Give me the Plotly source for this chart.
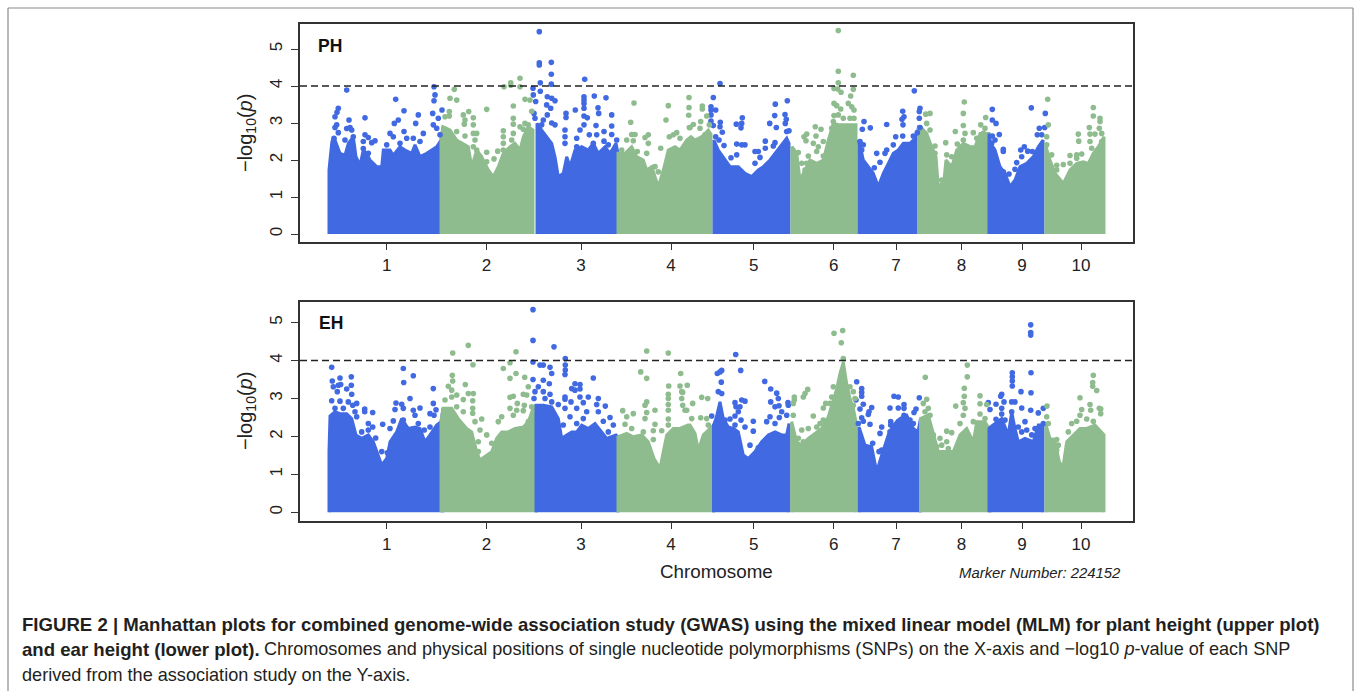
import plotly.graph_objects as go

BLUE = "#4169E1"
GREEN = "#8FBC8F"
chrom_labels = ["1", "2", "3", "4", "5", "6", "7", "8", "9", "10"]
chrom_ticks = [86.7, 186.5, 281, 371, 453.7, 533.7, 596, 661.5, 722, 781]
chrom_edges = [29, 142, 235, 317.5, 412.5, 490.5, 557.5, 619.5, 690, 744.5, 806]

# top of the solid mass of markers, (position, -log10 p)
ph_env = [
 (29,1.73),(30,2.0),(31.7,2.45),(35,2.54),(40,2.18),(45,2.13),(48.3,2.45),(53.3,2.63),(56,2.09),(60,1.86),(63.3,2.27),(66.7,2.18),(70,2.0),(76.7,1.82),(81.7,1.82),(83.3,2.27),(90,2.27),(93.3,2.13),(100,2.36),(105,2.27),(111.7,2.18),(115,2.41),(120,2.09),(126.7,2.18),(131.7,2.27),(136.7,2.36),(141,2.54),
 (143,2.9),(150,2.81),(156.7,2.54),(163.3,2.45),(168.3,2.36),(171.7,1.82),(176.7,2.27),(181.7,2.09),(188.3,1.73),(193.3,1.55),(198.3,1.82),(203.3,2.18),(210,2.36),(215,2.45),(220,2.27),(223.3,2.63),(228.3,2.9),(233,2.81),
 (237,2.99),(241.7,2.81),(246.7,2.63),(251.7,2.45),(255,2.09),(258.3,1.55),(263.3,1.64),(266.7,2.09),(270,1.82),(275,2.27),(281.7,2.36),(288.3,2.27),(293.3,2.45),(298.3,2.18),(305,2.36),(310,2.18),(316,2.45),
 (318,2.18),(325,2.18),(331.7,2.36),(336.7,2.09),(343.3,2.0),(346.7,1.73),(351.7,1.82),(358.3,1.28),(363.3,1.73),(368.3,2.27),(375,2.36),(380,2.27),(386.7,2.54),(391,2.63),(395,2.54),(401.7,2.63),(408.3,2.81),(411,2.7),
 (414,2.54),(418.3,2.27),(423.3,2.09),(430,1.82),(438.3,1.82),(445,1.64),(451.7,1.55),(458.3,1.73),(463.3,1.82),(470,2.0),(475,2.18),(480,2.36),(486.7,2.59),(489,2.45),
 (492,2.36),(496.7,2.18),(500,1.46),(505,1.73),(510,2.0),(516.7,1.91),(523.3,2.0),(528.3,2.54),(533.3,2.99),(540,2.95),(546.7,2.95),(556,2.95),
 (559,2.54),(563.3,2.0),(568.3,1.82),(573.3,1.64),(578.3,1.28),(583.3,1.64),(588.3,1.91),(593.3,2.18),(598.3,2.27),(603.3,2.45),(610,2.45),(616.7,2.63),(618.5,2.9),
 (620.5,2.9),(626.7,2.72),(631.7,2.36),(636,2.09),(638.3,1.28),(643.3,1.28),(646,2.0),(651.7,1.82),(656.7,2.27),(663.3,2.45),(670,2.36),(675,2.36),(680,2.72),(689,2.72),
 (690.5,2.45),(695,2.27),(700,1.82),(705,1.64),(710,1.28),(715,1.46),(720,1.82),(726.7,1.91),(733.3,2.09),(738.3,2.36),(743,2.54),
 (746,2.36),(750,2.0),(755,1.64),(763.3,1.37),(770,1.73),(776.7,1.91),(783.3,1.95),(788.3,1.91),(793.3,2.18),(798.3,2.36),(804,2.63),
]
eh_env = [
 (29,1.6),(30,2.54),(35,2.65),(40,2.6),(46.7,2.6),(51.7,2.47),(56,2.04),(61.7,1.95),(68.3,2.04),(73.3,1.86),(78.3,1.51),(81.7,1.25),(86.7,1.42),(90,1.86),(96.7,2.12),(101.7,2.47),(108.3,2.21),(115,2.25),(120,2.21),(125,1.86),(130,2.04),(136.7,2.3),(141,2.39),
 (143,2.74),(151.7,2.74),(158.3,2.47),(166.7,2.21),(171.7,2.12),(176.7,1.6),(180,1.38),(186.7,1.51),(191.7,1.6),(196.7,1.95),(201.7,2.12),(208.3,2.12),(215,2.21),(223.3,2.25),(228.3,2.39),(233,2.74),
 (236,2.82),(243.3,2.82),(251.7,2.78),(258.3,2.47),(261.7,1.95),(266.7,2.04),(271.7,2.12),(276.7,2.12),(281.7,2.3),(288.3,2.21),(295,2.34),(301.7,2.12),(306.7,1.95),(316,2.04),
 (318,1.99),(326.7,2.08),(333.3,1.99),(341.7,2.04),(348.3,1.86),(354,1.42),(360,1.16),(363.3,1.6),(366.7,2.04),(373.3,2.21),(380,2.21),(388,2.3),(390,2.3),(395,2.08),(398.3,1.64),(403.3,2.04),(410,2.21),
 (413.5,2.3),(416,2.47),(420,2.91),(423.3,2.47),(428.3,2.25),(433.3,2.21),(438.3,2.12),(443.3,1.51),(448.3,1.42),(455,1.6),(461.7,1.86),(468.3,2.04),(475,2.12),(481.7,2.04),(486.7,2.04),(489,2.34),
 (491.7,2.39),(496.7,1.86),(501.7,1.77),(508.3,1.95),(513.3,2.04),(521.7,2.21),(528.3,2.52),(533.3,3),(536.7,3.26),(540,3.66),(543.3,3.96),(546.7,3.39),(550,3),(553.3,2.74),(556,2.39),
 (559,2.25),(561.7,2.04),(565,1.77),(571.7,1.73),(576.7,1.07),(581.7,1.51),(588.3,2.04),(593.3,2.3),(600,2.47),(606.7,2.56),(613.3,2.21),(618,2.12),
 (620.5,2.47),(628.3,2.56),(633.3,2.04),(638.3,1.6),(645,1.6),(653.3,1.6),(660,2.04),(666.7,2.21),(673.3,1.86),(676.7,2.39),(685,2.39),(689,2.21),
 (690.5,2.25),(695,2.34),(701.7,2.47),(708.3,2.04),(711.7,2.65),(715,2.21),(718.3,1.86),(725,1.95),(733.3,1.86),(738.3,2.3),(743,2.3),
 (746,2.3),(750,1.95),(755,1.86),(760,1.25),(763.3,1.25),(766.7,1.86),(773.3,2.04),(780,2.21),(786.7,2.21),(795,2.3),(804,2.04),
]

ph_blue = [
 (46.7,3.89),(38.3,3.4),(37,3.29),(35,3.17),(36.7,2.95),(35,2.88),(49,3.08),(46.7,2.85),(50,2.88),(51.7,2.81),
 (38.3,2.74),(34,2.59),(45,2.54),(53.3,2.63),(33.3,2.5),(65,3.14),(65,2.68),(68.3,2.61),(63.3,2.5),(75,2.52),(71.7,2.47),
 (63.3,2.31),(68.3,2.18),(95.7,3.64),(104,3.33),(98.3,3.08),(94.3,2.99),(118.3,3.22),(115.7,2.99),
 (134,3.98),(135,3.76),(134,3.6),(142,3.35),(132.7,3.26),(138.3,3.13),(133.3,2.95),(136.7,2.86),(140,2.68),
 (90,2.72),(93.3,2.63),(104,2.77),(123.3,2.72),(106.7,2.59),(113.3,2.59),(86.7,2.41),(100,2.45),(120,2.5),
 (239.3,5.47),(239.3,4.63),(239.3,4.57),(251.3,4.64),(251.3,4.32),(251.3,4.05),(240.3,4.09),(233,3.94),(240.3,3.86),(233.3,3.76),
 (247.3,3.71),(235.7,3.58),(246.7,3.49),(251.7,3.67),(255,3.6),(250.7,3.4),(234,3.26),(235,3.13),(247.3,3.22),(243.3,3.08),(251.7,3),(255,2.95),(241.7,2.95),
 (284.7,4.18),(284,3.71),(284,3.62),(284,3.53),(284,3.4),(275.3,3.35),(294.3,3.73),(306,3.68),(298,3.41),(298.7,3.26),(311.7,3.22),(266,3.26),(266,3.15),
 (284,3.19),(287.3,3.14),(284,2.95),(296,2.93),(311.7,2.92),(265,2.81),(280,2.81),(304,2.77),(311.7,2.69),(296.7,2.68),(265,2.63),(276.7,2.59),(289.3,2.68),(304,2.51),(316.7,2.54),(265,2.45),(293.3,2.45),(276.7,2.36),(308.3,2.41),
 (420,4.07),(413.3,3.69),(411,3.44),(411,3.35),(415.7,3.35),(411,3.22),(411,3.05),(420.3,3.02),(413.3,2.93),(420,2.9),(422.3,2.75),(415.7,2.63),(419,2.54),(424,2.39),
 (442.3,3.14),(436.3,2.97),(441.7,2.99),(441,2.87),(475.3,3.51),(487.3,3.6),(474.7,3.2),(485,3.23),(486.3,3.1),(485.3,2.99),(469.7,2.99),(476.3,2.88),(489,2.79),(486.7,2.77),(465.3,2.51),(475,2.47),(465.3,2.32),(473.3,2.38),
 (436.7,2.43),(441.7,2.41),(445,2.41),(436.7,2.14),(431,2.06),(455,2.23),(458.3,2.23),(460,2.07),(455,1.91),
 (614.3,3.87),(620,3.4),(619.3,3.31),(619.3,3.13),(602.7,3.32),(604,3.17),(602,3.1),(603,2.95),(586.7,2.96),(564,3.04),(562.3,2.83),(570.3,2.87),(620,2.88),(617.3,2.74),(613.3,2.65),(602.7,2.65),(595.7,2.63),(593.3,2.41),(586.7,2.27),(576.7,2.18),(585,2.18),(580,1.94),(574.3,1.79),(560,2.5),(563.3,2.41),(561.7,2.27),
 (692.3,3.37),(692.3,3.08),(696,2.99),(731.3,3.41),(745.3,3.26),(744.7,2.88),(739.3,2.86),(737.3,2.68),(741.7,2.68),(699.3,2.69),(692.3,2.65),(695,2.54),(691.7,2.45),(703.3,2.29),(703.3,2.23),(724.3,2.36),(720.7,2.27),(727.7,2.24),(732.3,2.23),(721.7,2.09),(716.7,1.93),(703.3,1.68),(709,1.62),(715,1.75),
]
ph_green = [
 (154.3,3.91),(150,3.67),(156.7,3.62),(149.3,3.31),(145,3.17),(149.3,3.19),(168.7,3.31),(163.3,3.22),(173.3,3.14),(165,3.08),(164.3,2.97),(173.3,2.95),(156.7,2.77),(165,2.65),(173.3,2.72),(176.7,2.72),(175,2.54),(173.3,2.36),(176.7,2.27),
 (186.7,3.37),(186.7,2.21),(197.7,2.24),(194,2.03),(180,2.09),(186.7,1.95),(204,3.98),(210.7,4.09),(210.7,4.02),(220,4.21),(220,3.98),(225,3.64),(230,3.62),(213.3,3.46),(231.7,3.32),(213.3,3.13),(213.3,2.97),(203.3,2.79),(225,2.99),(220,2.9),(203.3,2.63),(213.3,2.72),(203.3,2.45),(203.3,2.27),(211.7,2.54),(223.3,2.83),(228.3,2.95),
 (334,3.54),(330.7,3.02),(331.7,2.69),(335,2.69),(326.7,2.54),(333.3,2.52),(321.7,2.27),(345,2.61),(348.3,2.68),(348.3,2.45),(337.3,2.23),(346.7,2.18),(360.7,2.32),(355,1.82),(358.3,1.68),(368.3,3.47),(366,3.08),(389,3.69),(389,3.42),(388.7,3.21),(389.3,2.88),(369.3,2.63),(373.3,2.68),(376.7,2.74),(380,2.59),
 (402.3,3.46),(402.3,3.38),(393.3,2.96),(390,2.88),(400.7,3.04),(406.7,3.19),(409.3,2.95),(400,2.86),(405,2.68),
 (538.3,5.5),(538.3,4.4),(553.3,4.29),(538.3,4.09),(534,3.93),(537.7,3.92),(553.3,3.91),(541,3.83),(550.7,3.73),(534,3.53),(536.7,3.47),(540.7,3.38),(548.3,3.53),(551.7,3.44),(554,3.35),(534,3.2),(538.3,3.22),(543.3,3.13),(550,3.13),(554,3.13),(533.3,3.04),(531.7,2.86),
 (515.3,2.9),(521,2.83),(506.7,2.7),(504,2.63),(506,2.52),(516,2.65),(513.3,2.45),(523.3,2.5),(518.3,2.36),(498.3,2.2),(508.3,2.11),(516.7,2.23),(523.3,2.11),(501.7,1.91),(506.7,1.91),(505,1.73),(508.3,1.59),(499.3,1.46),
 (630,3.26),(625.7,3.24),(626.7,2.99),(630,2.81),(635,2.38),(635,2.18),(635,1.91),(645.7,2.47),(641.7,1.46),(641.7,1.32),(646.7,2.14),(646.7,1.82),(664.3,3.57),(663.3,3.26),(663.3,2.93),(655.3,2.77),(657.3,2.43),(665,2.72),(673.3,2.74),(685.7,3.15),(680.7,2.95),(685,2.86),(676.7,2.59),(683.3,2.72),(663.3,2.54),(651.7,2.09),
 (747.7,3.64),(748.3,2.95),(746.7,2.63),(746.7,2.41),(751.7,2.14),(756.7,1.86),(763.3,1.88),(756.7,1.73),(770,2.12),(776.7,2.14),(781.7,2.16),(778.3,2.7),(778.7,2.51),(770,1.91),(776.7,2.05),(793.3,3.42),(793.3,3.19),(800,3.13),(800,3.04),(789.3,2.88),(799.3,2.86),(790,2.7),(795,2.7),(801.7,2.72),(790,2.5),(801.7,2.5),(791.7,2.32),
]
eh_blue = [
 (31.7,3.82),(32.3,3.46),(40,3.54),(51.3,3.57),(33.3,3.31),(38.3,3.35),(40.7,3.37),(51.3,3.35),(46.7,3.25),(37.3,3.18),(51.7,3.11),(31.7,2.94),(40,2.93),(48.3,2.91),(56.7,2.87),(52.7,2.82),(35,2.74),(43.3,2.74),(64.7,2.72),(64.7,2.65),(72.7,2.63),(55,2.65),(56.7,2.52),(68.3,2.34),(72.7,2.25),(82.7,2.32),(68.3,2.17),(61.7,2.12),(75.7,1.96),(81.7,1.6),(87.3,1.57),
 (103.3,3.79),(113.3,3.6),(103.7,3.42),(133.3,3.26),(110,3.0),(96,2.88),(101.7,2.85),(133.3,2.87),(120,2.75),(95,2.71),(103.3,2.74),(136,2.7),(113.3,2.69),(115,2.56),(130,2.6),(134,2.56),(93.3,2.41),(118.3,2.34),(103.3,2.43),(130,2.25),(124.3,2.17),(90,2.21),
 (233,5.34),(233,4.53),(233,3.96),(254,4.36),(265.3,4.05),(265.3,3.88),(265.3,3.75),(265,3.63),(240,3.88),(243.3,3.88),(250,3.82),(251.7,3.66),(233,3.5),(243.3,3.48),(249.3,3.39),(293.3,3.54),(275,3.39),(280,3.37),(271.7,3.26),(280,3.25),(275,3.22),(238.3,3.31),(235,3.18),(243.3,3.18),(250,3.11),(234,3),(245,3),(251.7,2.91),(265,3.04),(265,2.98),(280,3.04),(288.3,3.04),(298.3,3),(271,2.91),(283.3,2.89),(258.3,2.84),(296.7,2.84),(305.3,2.8),(265,2.74),(276.7,2.74),(286.7,2.65),(298.3,2.65),(310,2.5),(270,2.52),(283.3,2.47),(303.3,2.4),(263.3,2.3),(276.7,2.34),(313.3,2.3),(308.3,2.12),
 (435.7,4.16),(440.7,3.74),(421.7,3.74),(417.3,3.66),(420,3.7),(421.3,3.43),(464.7,3.45),(470.7,3.25),(476.7,3.14),(418.3,3.18),(421.7,3.13),(478.3,3),(470.7,2.91),(435,2.89),(441.7,2.96),(445,2.93),(475,2.78),(479,2.81),(488,2.89),(488.3,2.82),(436,2.78),(440,2.78),(438.3,2.65),(481.7,2.65),(470,2.52),(479.3,2.5),(486.7,2.56),(435,2.54),(411.7,2.54),(430,2.46),(441,2.43),(453.3,2.4),(466.7,2.39),(425,2.43),(435,2.3),(445,2.25),(453.3,2.14),(475,2.34),(450,1.77),(458.3,1.7),
 (556.7,3.44),(561.7,3.26),(561.7,3.16),(561.7,3.06),(556,2.96),(563.3,2.85),(571.7,2.76),(560,2.72),(569,2.65),(568.3,2.58),(561.7,2.49),(563.3,2.4),(570,2.32),(558.3,2.34),(581.7,2.25),(580,2.08),(572.7,1.82),(581.7,1.64),(579,1.6),(594,3.06),(598.3,3.04),(604,2.84),(619.3,3.02),(590,2.75),(598.3,2.75),(604,2.74),(616,2.72),(614,2.63),(604,2.56),(590.7,2.39),(598.3,2.39),(610,2.43),(590.7,2.3),(613.3,2.34),(590,2.12),
 (730.7,4.94),(730.7,4.74),(730.7,4.67),(731,3.68),(712.3,3.68),(712.3,3.57),(712.3,3.46),(712.3,3.33),(731,3.15),(721,3.18),(701.7,3.11),(700.7,3.06),(688.3,2.89),(696,2.85),(704,2.91),(711.7,2.91),(715,2.91),(690,2.71),(701.7,2.74),(721.7,2.75),(730.7,2.69),(743.3,2.74),(738.3,2.62),(701.7,2.59),(711.7,2.65),(696,2.45),(705,2.43),(725,2.39),(718.3,2.25),(726.7,2.17),(721.7,2.12),(735,2.21),(731.7,2.04),(713.3,2.12),(743.3,2.34),
]
eh_green = [
 (152.7,4.2),(168.3,4.4),(173,3.89),(152.3,3.61),(152.7,3.46),(165.3,3.37),(148.3,3.32),(151.7,3.22),(145,2.96),(151.7,3.04),(156.7,3.09),(168.3,3.13),(173.3,3.13),(163.3,2.97),(172.7,2.94),(156.7,2.78),(163.3,2.65),(172.7,2.74),(172.7,2.61),(181.7,2.46),(175,2.39),(180,2.17),(186.7,2.04),(191.7,1.82),(178.3,1.86),(178.3,1.6),
 (216,4.23),(210,3.94),(203.3,3.79),(216,3.66),(210,3.53),(224.7,3.56),(228.3,3.31),(223.3,3.11),(226.7,3.09),(213.3,3.06),(210,3.03),(217.3,2.87),(224.3,2.82),(231.7,2.78),(210,2.74),(216.7,2.69),(223.3,2.68),(213.3,2.56),(201.7,2.52),(198.3,2.39),(228.3,2.39),
 (346.7,4.25),(368.3,4.2),(340.7,3.7),(346.7,3.53),(380.7,3.66),(368.7,3.33),(380,3.33),(387.3,3.35),(382.7,3.16),(368.3,3.11),(368.3,3),(381.7,3),(368.3,2.84),(346.7,2.91),(345,2.82),(382.7,2.82),(368.3,2.69),(386.7,2.69),(322.7,2.68),(355,2.69),(333.3,2.6),(346.7,2.63),(345,2.47),(326.7,2.52),(368.3,2.46),(355,2.32),(325,2.32),(368.3,2.3),(361.7,2.15),(353.3,2.15),(343.3,2.12),(353.3,1.92),(331.7,2.21),
 (392.7,2.87),(401.7,3.03),(407.7,3),(381.7,3.18),(385,2.69),(391.7,2.47),(400.7,2.49),(406.7,2.47),(408.3,2.3),
 (534,4.72),(542.7,4.79),(541.3,4.47),(543.3,4.05),(494.3,3.04),(494.3,2.96),(507.7,3.24),(505,3.13),(503.3,3.04),(493.3,2.87),(525.7,2.87),(523.3,2.75),(513.3,2.54),(493.3,2.56),(508.3,2.21),(501.7,2.17),(516.7,2.25),(523.3,2.43),(533.3,3.31),(550,3.31),(553.3,3.18),(531.7,3.04),(555,3),(530,2.87),(553.3,2.82),(553.3,2.56),(520,2.34),(498.3,1.95),(516.7,2.04),(503.3,1.86),
 (625.3,3.56),(626.7,2.98),(623.3,2.87),(628.3,2.74),(625,2.65),(630,2.56),(667.3,3.88),(667.3,3.57),(664.3,3.27),(664.3,3.06),(663.3,2.89),(680,3.07),(680,2.86),(686.7,2.84),(655.7,2.8),(665,2.74),(663.3,2.56),(680,2.59),(685,2.47),(660,2.34),(646.7,2.14),(651.7,2.1),(633.3,2.04),(640,1.95),(646.7,1.86),(673.3,2.39),(636.7,1.73),(641.7,1.77),(648.3,1.68),
 (747,2.8),(746.7,2.52),(748.3,2.34),(756.7,1.92),(753.3,1.9),(758.3,1.77),(756.7,1.64),(760,1.25),(793.3,3.61),(792.7,3.42),(792.7,3.32),(796.7,3.21),(780,3.02),(790,2.84),(781.7,2.71),(799.3,2.74),(800.7,2.72),(800.7,2.6),(790.7,2.69),(780,2.56),(786.7,2.46),(776.7,2.4),(771.7,2.34),(793.3,2.4),(768.3,2.12),
]

threshold = 4
W, H = 1360, 691
caption_1 = "<b>FIGURE 2 | Manhattan plots for combined genome-wide association study (GWAS) using the mixed linear model (MLM) for plant height (upper plot)</b>"
caption_2a = "<b>and ear height (lower plot).</b>"
caption_2b = "Chromosomes and physical positions of single nucleotide polymorphisms (SNPs) on the X-axis and −log10 <i>p</i>-value of each SNP"
caption_3 = "derived from the association study on the Y-axis."

fig = go.Figure()

def add_panel(env, blue, green, xref, yref):
    for i in range(10):
        pts = [p for p in env if chrom_edges[i] - 1 <= p[0] <= chrom_edges[i + 1] + 1]
        xs = [pts[0][0]] + [p[0] for p in pts] + [pts[-1][0]]
        ys = [0] + [p[1] for p in pts] + [0]
        c = BLUE if i % 2 == 0 else GREEN
        fig.add_trace(go.Scatter(x=xs, y=ys, mode="lines", fill="toself", fillcolor=c,
                                 line=dict(color=c, width=3), xaxis=xref, yaxis=yref,
                                 hoverinfo="skip", showlegend=False))
    for pts, c in ((blue, BLUE), (green, GREEN)):
        fig.add_trace(go.Scatter(x=[p[0] for p in pts], y=[p[1] for p in pts], mode="markers",
                                 marker=dict(color=c, size=5.6, line=dict(width=0)),
                                 xaxis=xref, yaxis=yref, showlegend=False))
    fig.add_trace(go.Scatter(x=[0, 833], y=[threshold, threshold], mode="lines",
                             line=dict(color="#222222", width=1.4, dash="7px,4px"),
                             xaxis=xref, yaxis=yref, showlegend=False))

add_panel(ph_env, ph_blue, ph_green, "x", "y")
add_panel(eh_env, eh_blue, eh_green, "x2", "y2")

AX = dict(showgrid=False, zeroline=False, showline=True, mirror=True, linecolor="#333333", linewidth=1.5,
          ticks="outside", ticklen=7, tickwidth=1.3, tickcolor="#333333",
          tickfont=dict(family="Liberation Sans", size=17, color="#222222"))
xax = dict(AX, range=[0, 833], domain=[300 / W, 1133 / W], tickmode="array", tickvals=chrom_ticks, ticktext=chrom_labels)
yax = dict(AX, tickmode="array", tickvals=[0, 1, 2, 3, 4, 5], tickangle=-90, ticklabelstandoff=2)

fig.update_layout(
    width=W, height=H, margin=dict(l=0, r=0, t=0, b=0), paper_bgcolor="white", plot_bgcolor="white",
    showlegend=False, hovermode=False,
    xaxis=dict(xax, anchor="y"),
    yaxis=dict(yax, range=[-0.208, 5.69], domain=[1 - 241.7 / H, 1 - 23.5 / H], anchor="x"),
    xaxis2=dict(xax, anchor="y2"),
    yaxis2=dict(yax, range=[-0.22, 5.55], domain=[1 - 520.7 / H, 1 - 301.7 / H], anchor="x2"),
)

def note(text, px, py, size, color="#222222", family="Liberation Sans", anchor="left", angle=0):
    fig.add_annotation(text=text, x=px / W, y=1 - py / H, xref="paper", yref="paper", showarrow=False,
                       xanchor=anchor, yanchor="middle", textangle=angle,
                       font=dict(family=family, size=size, color=color))

note("<b>PH</b>", 316, 46, 17.5, "#111111")
note("<b>EH</b>", 317, 323, 17.5, "#111111")
note("−log<sub>10</sub>(<i>p</i>)", 246, 133, 20, anchor="center", angle=-90)
note("−log<sub>10</sub>(<i>p</i>)", 246, 411, 20, anchor="center", angle=-90)
note("Chromosome", 716, 571, 18.8, anchor="center")
note("<i>Marker Number: 224152</i>", 957, 573, 14.9)
note(caption_1, 20, 624, 18.6, "#231f20")
note(caption_2a, 20, 649, 18.6, "#231f20")
note(caption_2b, 262, 649, 18.1, "#231f20")
note(caption_3, 20, 675, 18.1, "#231f20")

for x0, y0, x1, y1 in ((8, 8, 1353, 8), (8, 8, 8, 691), (1353, 8, 1353, 691)):
    fig.add_shape(type="line", xref="paper", yref="paper", x0=x0 / W, x1=x1 / W, y0=1 - y0 / H, y1=1 - y1 / H,
                  line=dict(color="#8a8a8a", width=1.2))

fig.write_html("out.html", config={"displayModeBar": False},
               post_script="document.body.style.margin='0';document.documentElement.style.overflow='hidden';")
